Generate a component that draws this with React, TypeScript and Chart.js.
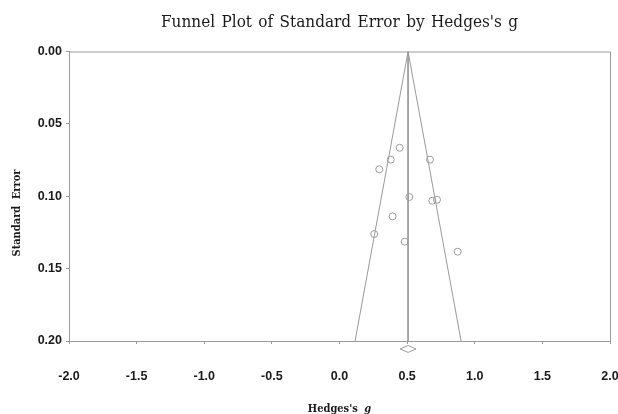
import React, { useEffect, useRef } from "react";
import { Chart, registerables } from "chart.js";

Chart.register(...registerables);

const TITLE = "Funnel Plot of Standard Error by Hedges's g";
const X_TITLE_MAIN = "Hedges's ";
const X_TITLE_ITALIC = "g";
const Y_TITLE = "Standard Error";

// Study effects (Hedges's g) and their standard errors
const studyG = [0.445, 0.379, 0.294, 0.669, 0.516, 0.686, 0.721, 0.393, 0.257, 0.482, 0.874];
const studySE = [0.0665, 0.0747, 0.0814, 0.0747, 0.1005, 0.1031, 0.1024, 0.1139, 0.1261, 0.1314, 0.1383];

// Funnel (pseudo 95% limits) and the mean line
const funnelX = [0.115, 0.507, 0.899];
const funnelY = [0.2, 0.0, 0.2];
const meanX = [0.507, 0.507];
const meanY = [0.0, 0.2];

// Summary diamond (combined effect) drawn just below the axis
const diamondX = [0.448, 0.507, 0.566, 0.507, 0.448];
const diamondY = [0.2055, 0.2031, 0.2055, 0.2079, 0.2055];

const X_MIN = -2;
const X_MAX = 2;
const X_STEP = 0.5;
const Y_MIN = 0;
const Y_MAX = 0.2;
const Y_STEP = 0.05;

const GRAY = "#9a9a9a";
const TEXT = "#1a1a1a";
const SERIF = "'DejaVu Serif Condensed', 'DejaVu Serif', serif";

const zip = (xs: number[], ys: number[]) => xs.map((x, i) => ({ x, y: ys[i] }));

const framePlugin = {
  id: "frameAndTitles",
  beforeDatasetsDraw(chart: any) {
    const { ctx, chartArea } = chart;
    ctx.save();
    ctx.strokeStyle = GRAY;
    ctx.lineWidth = 1;
    ctx.beginPath();
    ctx.moveTo(chartArea.left, chartArea.top + 0.5);
    ctx.lineTo(chartArea.right + 0.5, chartArea.top + 0.5);
    ctx.lineTo(chartArea.right + 0.5, chartArea.bottom);
    ctx.stroke();
    ctx.restore();
  },
  afterDraw(chart: any) {
    const { ctx, chartArea } = chart;
    const cx = (chartArea.left + chartArea.right) / 2;
    ctx.save();
    ctx.fillStyle = TEXT;
    ctx.textBaseline = "middle";
    ctx.textAlign = "center";
    ctx.font = "17px " + SERIF;
    (ctx as any).wordSpacing = "1.5px";
    ctx.fillText(TITLE, cx, 23);

    // x axis title with italic g
    (ctx as any).wordSpacing = "3px";
    ctx.font = "bold 11px " + SERIF;
    const w1 = ctx.measureText(X_TITLE_MAIN).width;
    ctx.font = "italic bold 11px " + SERIF;
    const w2 = ctx.measureText(X_TITLE_ITALIC).width;
    const start = cx - (w1 + w2) / 2;
    ctx.textAlign = "left";
    ctx.font = "bold 11px " + SERIF;
    ctx.fillText(X_TITLE_MAIN, start, 409);
    ctx.font = "italic bold 11px " + SERIF;
    ctx.fillText(X_TITLE_ITALIC, start + w1, 409);

    // y axis title
    ctx.translate(17, 213);
    ctx.rotate(-Math.PI / 2);
    ctx.textAlign = "center";
    ctx.font = "bold 11px " + SERIF;
    ctx.fillText(Y_TITLE, 0, 0);
    ctx.restore();
  },
};

export default function App() {
  const ref = useRef<HTMLCanvasElement | null>(null);

  useEffect(() => {
    if (!ref.current) return;
    const chart = new Chart(ref.current, {
      type: "scatter",
      data: {
        datasets: [
          {
            type: "line",
            data: zip(funnelX, funnelY),
            borderColor: GRAY,
            borderWidth: 1,
            pointRadius: 0,
            fill: false,
          } as any,
          {
            type: "line",
            data: zip(meanX, meanY),
            borderColor: GRAY,
            borderWidth: 1,
            pointRadius: 0,
            fill: false,
          } as any,
          {
            type: "line",
            data: zip(diamondX, diamondY),
            borderColor: GRAY,
            borderWidth: 1,
            pointRadius: 0,
            fill: false,
            clip: false,
          } as any,
          {
            type: "scatter",
            data: zip(studyG, studySE),
            borderColor: GRAY,
            backgroundColor: "rgba(255,255,255,0)",
            borderWidth: 1,
            pointRadius: 3.5,
            pointStyle: "circle",
          } as any,
        ],
      },
      options: {
        animation: false,
        responsive: false,
        devicePixelRatio: 1,
        layout: { padding: { top: 51.5, right: 8, left: 0, bottom: 0 } },
        plugins: {
          legend: { display: false },
          title: { display: false },
          tooltip: { enabled: false },
        },
        scales: {
          x: {
            type: "linear",
            min: X_MIN,
            max: X_MAX,
            grid: { drawOnChartArea: false, tickLength: 3, color: GRAY },
            border: { color: GRAY },
            ticks: {
              stepSize: X_STEP,
              padding: 25,
              color: TEXT,
              font: { family: "'Liberation Sans', Arial, sans-serif", size: 12.5, weight: "bold" },
              callback: (v: any) => Number(v).toFixed(1),
            },
            afterFit: (s: any) => {
              s.height = 73;
              s.paddingLeft = 0;
              s.paddingRight = 0;
            },
          } as any,
          y: {
            type: "linear",
            reverse: true,
            min: Y_MIN,
            max: Y_MAX,
            grid: { drawOnChartArea: false, tickLength: 3, color: GRAY },
            border: { color: GRAY },
            ticks: {
              stepSize: Y_STEP,
              padding: 4,
              color: TEXT,
              font: { family: "'Liberation Sans', Arial, sans-serif", size: 12.5, weight: "bold" },
              callback: (v: any) => Number(v).toFixed(2),
            },
            afterFit: (s: any) => {
              s.width = 69;
              s.paddingTop = 0;
              s.paddingBottom = 0;
            },
          } as any,
        },
      },
      plugins: [framePlugin],
    });
    return () => chart.destroy();
  }, []);

  return (
    <div style={{ position: "fixed", left: 0, top: 0, width: 618, height: 414, background: "#fff" }}>
      <canvas ref={ref} width={618} height={414} style={{ display: "block" }} />
    </div>
  );
}
